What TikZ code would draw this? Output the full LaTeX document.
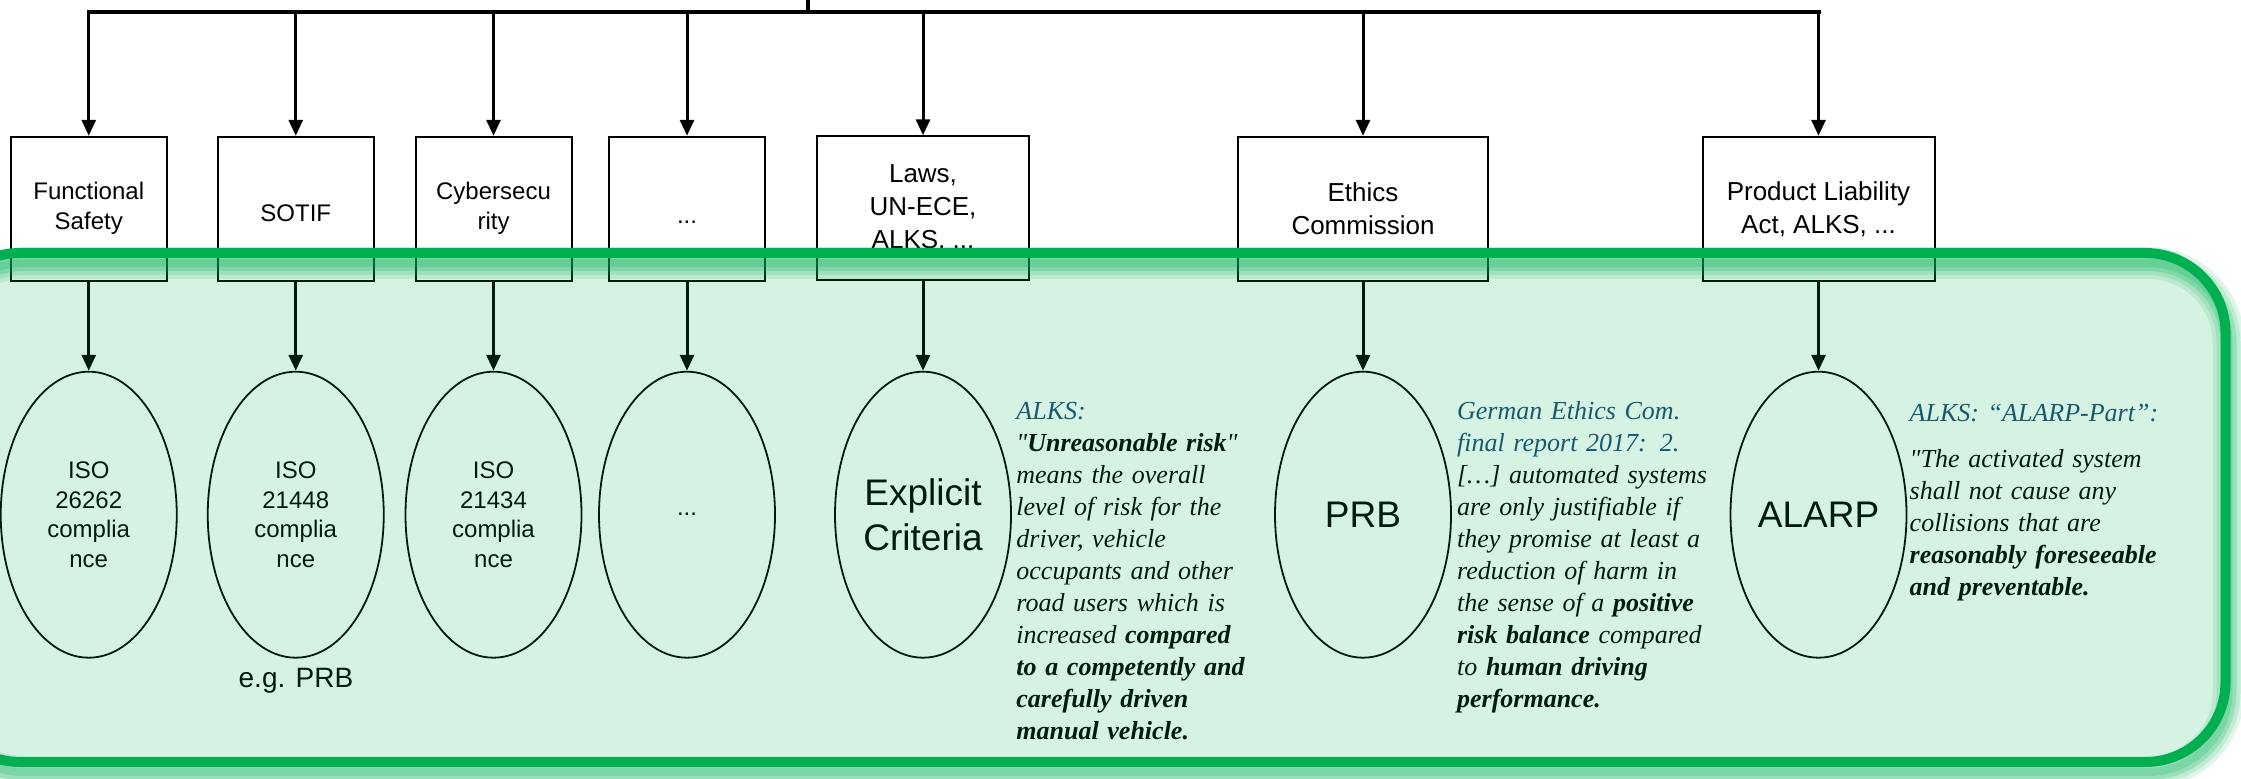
\documentclass[tikz,border=0pt]{standalone}
\usepackage{fontspec}
\setmainfont{Liberation Sans}
\newfontfamily\quotefont{Liberation Serif}
\usetikzlibrary{shapes.geometric,arrows.meta}
\definecolor{panelgreen}{RGB}{0,176,80}
\definecolor{headblue}{RGB}{28,74,116}
\tikzset{
  stdbox/.style={draw, line width=1pt, fill=white, minimum width=78pt, minimum height=72pt,
    align=center, inner sep=2pt, font=\fontsize{12}{15}\selectfont,
    execute at begin node={\rule{0pt}{13pt}}},
  widebox/.style={stdbox, font=\fontsize{13}{16.5}\selectfont,
    execute at begin node={\rule{0pt}{14pt}}},
  goal/.style={draw, ellipse, line width=0.9pt, minimum width=88pt, minimum height=143pt,
    inner sep=0pt, align=center, font=\fontsize{12}{14.75}\selectfont},
  biggoal/.style={goal, font=\fontsize{18.5}{22.5}\selectfont},
  arr/.style={line width=1.5pt, -{Stealth[inset=0pt, length=8pt, width=7pt]}},
  citeblock/.style={anchor=base west, inner sep=0pt, text width=150pt, align=left,
    font=\quotefont\itshape\fontsize{13}{16}\selectfont},
  panel/.style={rounded corners=40pt},
}
\begin{document}
\begin{tikzpicture}[x=0.5pt, y=-0.5pt]
  \useasboundingbox (0,0) rectangle (2241,779);
  \clip (0,0) rectangle (2241,779);

  % top bus
  \coordinate (root) at (808,-5);
  \coordinate (bus) at (808,11.7);

  % sources
  \node[stdbox] (fs) at (88.75,208.8) {Functional\\Safety};
  \node[stdbox] (sotif) at (295.75,208.8) {SOTIF};
  \node[stdbox] (cyber) at (493.5,208.8) {Cybersecu\\rity};
  \node[stdbox] (more) at (687,208.8) {\mbox{}\\...};
  \node[widebox, minimum width=106pt] (laws) at (923,208.3) {Laws,\\UN-ECE,\\ALKS, ...};
  \node[widebox, minimum width=125pt] (ethics) at (1363,208.8) {Ethics\\Commission};
  \node[widebox, minimum width=116pt] (pla) at (1818.5,208.8) {Product Liability\\Act, ALKS, ...};

  \draw[line width=2pt] (root) -- (bus);
  \draw[line width=2pt, line cap=rect] (bus -| fs.north) -- (bus -| pla.north);
  \foreach \n in {fs,sotif,cyber,more,laws,ethics,pla}
    \draw[arr] (bus -| \n.north) -- (\n.north);

  % criteria
  \node[goal] (iso26262) at (88.75,514.7) {ISO\\26262\\complia\\nce};
  \node[goal] (iso21448) at (295.75,514.7) {ISO\\21448\\complia\\nce};
  \node[goal] (iso21434) at (493.5,514.7) {ISO\\21434\\complia\\nce};
  \node[goal] (moregoal) at (687,514.7) {...};
  \node[biggoal] (explicit) at (923,514.7) {Explicit\\Criteria};
  \node[biggoal] (prb) at (1363,514.7) {PRB};
  \node[biggoal] (alarp) at (1818.5,514.7) {ALARP};

  \foreach \b/\e in {fs/iso26262,sotif/iso21448,cyber/iso21434,more/moregoal,laws/explicit,ethics/prb,pla/alarp}
    \draw[arr] (\b.south) -- (\e.north);

  \node[font=\fontsize{14}{16}\selectfont] (eg) at (296,681) {e.g. PRB};

  % quotes
  \node[citeblock] (alksquote) at (1016,420) {%
    {\color{headblue}ALKS:}\\
    "\textbf{Unreasonable risk}"\\
    means the overall\\
    level of risk for the\\
    driver, vehicle\\
    occupants and other\\
    road users which is\\
    increased \textbf{compared}\\
    \textbf{to a competently and}\\
    \textbf{carefully driven}\\
    \textbf{manual vehicle.}};
  \node[citeblock] (ethicsquote) at (1456.7,420) {%
    {\color{headblue}German Ethics Com.}\\
    {\color{headblue}final report 2017: 2.}\\
    {[}…{]} automated systems\\
    are only justifiable if\\
    they promise at least a\\
    reduction of harm in\\
    the sense of a \textbf{positive}\\
    \textbf{risk balance} compared\\
    to \textbf{human driving}\\
    \textbf{performance.}};
  \node[citeblock] (alarpquote) at (1909.3,421.7) {%
    {\color{headblue}ALKS: “ALARP-Part”:}\\[6.8pt]
    "The activated system\\
    shall not cause any\\
    collisions that are\\
    \textbf{reasonably foreseeable}\\
    \textbf{and preventable.}};

  % green panel on top
  \fill[panel, panelgreen, fill opacity=0.16] (-60,253) rectangle (2225.5,762);
  \foreach \w/\o in {16/0.12, 12/0.15, 8/0.2, 4/0.2}
    \draw[panel, panelgreen, line width=\w pt, draw opacity=\o, shift={(3,10)}]
      (-60,253) rectangle (2225.5,762);
  \draw[panel, panelgreen, line width=5pt] (-60,253) rectangle (2225.5,762);
\end{tikzpicture}
\end{document}
